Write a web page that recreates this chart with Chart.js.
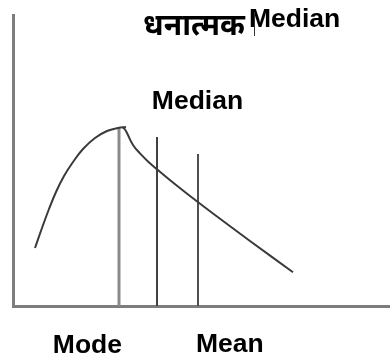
<!DOCTYPE html>
<html>
<head>
<meta charset="utf-8">
<script src="https://cdn.jsdelivr.net/npm/chart.js@4.4.0/dist/chart.umd.min.js"></script>
<style>
html,body{margin:0;padding:0;background:#fff;}
#wrap{position:relative;width:390px;height:361px;}
</style>
</head>
<body>
<div id="wrap"><canvas id="c" width="390" height="361"></canvas></div>
<script>
// Schematic of a positively skewed distribution (arbitrary units)
const risingX = [22, 29, 36, 43, 51, 60, 70, 82, 94, 105, 113];
const risingY = [58, 78, 97, 114, 130, 144, 157, 168, 175, 178, 179];
const fallingX = [110, 112, 114, 120, 127, 135, 144, 159, 177, 202, 237, 280];
const fallingY = [178.5, 176.5, 173, 161, 152.6, 144.6, 136.7, 124.2, 110, 91, 65, 33.7];
const modeX = 106, modeTop = 179;
const medianX = 144, medianTop = 169;
const meanX = 185, meanTop = 152;
const titleHindi = 'धनात्मक';
const titleLatin = 'Median';
const labelMedian = 'Median';
const labelMode = 'Mode';
const labelMean = 'Mean';

const pts = (xs, ys) => xs.map((x, i) => ({x, y: ys[i]}));
const vline = (x, top) => [{x, y: 0}, {x, y: top}];

const labelPlugin = {
  id: 'labels',
  afterDraw(chart) {
    const {ctx, scales: {x}} = chart;
    ctx.save();
    ctx.fillStyle = '#000';
    ctx.textBaseline = 'alphabetic';
    const latin = 'bold 26.5px "Liberation Sans", Arial, sans-serif';
    ctx.font = latin;
    ctx.textAlign = 'left';
    ctx.fillText(titleLatin, 249, 27);
    ctx.textAlign = 'right';
    ctx.font = 'bold 30px "Noto Sans Devanagari", "Noto Sans", "Liberation Sans", sans-serif';
    ctx.fillText(titleHindi, 245, 35);
    // cursor mark
    ctx.strokeStyle = '#333';
    ctx.lineWidth = 1;
    ctx.beginPath(); ctx.moveTo(254.5, 12); ctx.lineTo(254.5, 36); ctx.stroke();
    ctx.font = latin;
    ctx.textAlign = 'center';
    ctx.fillText(labelMedian, 197.5, 109);
    ctx.textAlign = 'right';
    ctx.fillText(labelMode, x.getPixelForValue(modeX) + 3, 353);
    ctx.textAlign = 'left';
    ctx.fillText(labelMean, x.getPixelForValue(meanX) - 2, 352);
    ctx.restore();
  }
};

const curveStyle = {showLine: true, pointRadius: 0, borderColor: '#3a3a3a', borderWidth: 2, tension: 0.4, fill: false};

new Chart(document.getElementById('c'), {
  type: 'scatter',
  data: {
    datasets: [
      Object.assign({data: pts(risingX, risingY)}, curveStyle),
      Object.assign({data: pts(fallingX, fallingY)}, curveStyle),
      {data: vline(modeX, modeTop), showLine: true, pointRadius: 0, borderColor: '#8a8a8a', borderWidth: 3},
      {data: vline(medianX, medianTop), showLine: true, pointRadius: 0, borderColor: '#404040', borderWidth: 2},
      {data: vline(meanX, meanTop), showLine: true, pointRadius: 0, borderColor: '#505050', borderWidth: 2}
    ]
  },
  options: {
    responsive: false,
    animation: false,
    layout: {padding: {left: 13, top: 15, right: 0, bottom: 55}},
    plugins: {legend: {display: false}, tooltip: {enabled: false}, title: {display: false}},
    scales: {
      x: {type: 'linear', min: 0, max: 377, grid: {display: false}, ticks: {display: false},
          border: {display: true, color: '#7d7d7d', width: 3}, afterFit: s => { s.height = 0; }},
      y: {type: 'linear', min: 0, max: 291, grid: {display: false}, ticks: {display: false},
          border: {display: true, color: '#7d7d7d', width: 3}, afterFit: s => { s.width = 0; }}
    }
  },
  plugins: [labelPlugin]
});
</script>
</body>
</html>
